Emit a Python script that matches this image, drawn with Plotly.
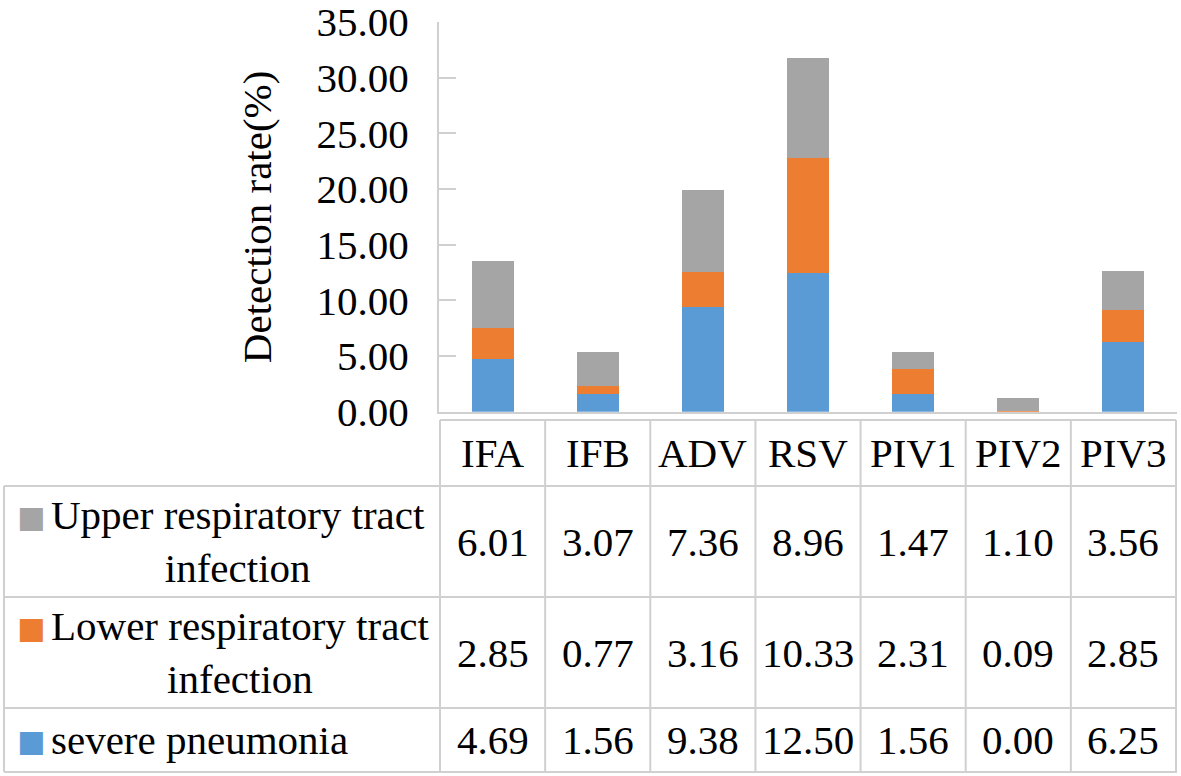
import plotly.graph_objects as go

# ---------------- data ----------------
categories = ["IFA", "IFB", "ADV", "RSV", "PIV1", "PIV2", "PIV3"]
severe_pneumonia = [4.69, 1.56, 9.38, 12.50, 1.56, 0.00, 6.25]
lower_rti = [2.85, 0.77, 3.16, 10.33, 2.31, 0.09, 2.85]
upper_rti = [6.01, 3.07, 7.36, 8.96, 1.47, 1.10, 3.56]
series_names = ["severe pneumonia", "Lower respiratory tract infection",
                "Upper respiratory tract infection"]
series_labels = ["severe pneumonia", "Lower respiratory tract<br>infection",
                 "Upper respiratory tract<br>infection"]
y_title = "Detection rate(%)"

# ---------------- style / layout constants ----------------
W, H = 1181, 776
COLORS = ["#5B9BD5", "#ED7D31", "#A5A5A5"]
LINE = "#D0D0D0"
FONT = "Liberation Serif"
FS = 41


def px_x(p):
    return p / W


def px_y(p):
    return 1 - p / H


X_DOM = [px_x(439), px_x(1177)]
Y_DOM = [px_y(411.7), px_y(22)]
TABLE_LEFT = 4
TABLE_TOP = 420
HEADER_BOTTOM = 486
ROW_BOUNDS = [486, 597, 708, 772]  # upper, lower, severe rows

fig = go.Figure()
for name, vals, col in zip(series_names, [severe_pneumonia, lower_rti, upper_rti], COLORS):
    fig.add_trace(go.Bar(x=categories, y=vals, name=name, marker=dict(color=col, line=dict(width=0)),
                         showlegend=False))

shapes = []
# vertical table lines at category boundaries (through the x scale)
for i in range(len(categories) + 1):
    shapes.append(dict(type="line", xref="x", yref="paper", x0=i - 0.5, x1=i - 0.5,
                       y0=px_y(TABLE_TOP), y1=px_y(ROW_BOUNDS[-1]),
                       line=dict(color=LINE, width=2)))
# header top line
shapes.append(dict(type="line", xref="x", yref="paper", x0=-0.5, x1=len(categories) - 0.5,
                   y0=px_y(TABLE_TOP), y1=px_y(TABLE_TOP), line=dict(color=LINE, width=2)))
# row lines spanning full table
for yb in ROW_BOUNDS:
    shapes.append(dict(type="line", xref="paper", yref="paper", x0=px_x(TABLE_LEFT), x1=X_DOM[1],
                       y0=px_y(yb), y1=px_y(yb), line=dict(color=LINE, width=2)))
# left border of legend column
shapes.append(dict(type="line", xref="paper", yref="paper", x0=px_x(TABLE_LEFT), x1=px_x(TABLE_LEFT),
                   y0=px_y(HEADER_BOTTOM), y1=px_y(ROW_BOUNDS[-1]), line=dict(color=LINE, width=2)))

annotations = []
# header category names
for c in categories:
    annotations.append(dict(x=c, xref="x", y=px_y((TABLE_TOP + HEADER_BOTTOM) / 2), yref="paper",
                            text=c, showarrow=False, font=dict(family=FONT, size=FS, color="black"),
                            xanchor="center", yanchor="middle"))

# rows top to bottom: upper, lower, severe
rows = [(upper_rti, series_labels[2], COLORS[2]),
        (lower_rti, series_labels[1], COLORS[1]),
        (severe_pneumonia, series_labels[0], COLORS[0])]
for r, (vals, label, col) in enumerate(rows):
    yc = (ROW_BOUNDS[r] + ROW_BOUNDS[r + 1]) / 2
    for c, v in zip(categories, vals):
        annotations.append(dict(x=c, xref="x", y=px_y(yc), yref="paper", text=f"{v:.2f}",
                                showarrow=False, font=dict(family=FONT, size=FS, color="black"),
                                xanchor="center", yanchor="middle"))
    annotations.append(dict(x=px_x(49), xref="paper", y=px_y(yc), yref="paper", text=label,
                            showarrow=False, align="center",
                            font=dict(family=FONT, size=FS, color="black"),
                            xanchor="left", yanchor="middle"))
    key_y = yc - 25 if "<br>" in label else yc
    annotations.append(dict(x=px_x(30.5), xref="paper", y=px_y(key_y), yref="paper", text="■",
                            showarrow=False, font=dict(family="DejaVu Sans", size=30, color=col),
                            xanchor="center", yanchor="middle"))

fig.update_layout(
    width=W, height=H, margin=dict(l=0, r=0, t=0, b=0, autoexpand=False),
    paper_bgcolor="white", plot_bgcolor="white",
    barmode="stack", bargap=0.6,
    xaxis=dict(domain=X_DOM, showticklabels=False, ticks="", showline=True, linecolor=LINE,
               linewidth=2, showgrid=False, zeroline=False, automargin=False),
    yaxis=dict(domain=Y_DOM, range=[0, 35], dtick=5, tickformat=".2f", ticks="inside", ticklen=17,
               tickwidth=2, tickcolor=LINE, showline=True, linecolor=LINE, linewidth=2,
               showgrid=False, zeroline=False, ticklabelstandoff=20, automargin=False,
               ticklabeloverflow="allow",
               tickfont=dict(family=FONT, size=FS, color="black"),
               title=dict(text=y_title, font=dict(family=FONT, size=FS, color="black"), standoff=32)),
    shapes=shapes, annotations=annotations,
)

fig.write_html("out.html", config={"displayModeBar": False},
               post_script="document.body.style.margin='0';")
